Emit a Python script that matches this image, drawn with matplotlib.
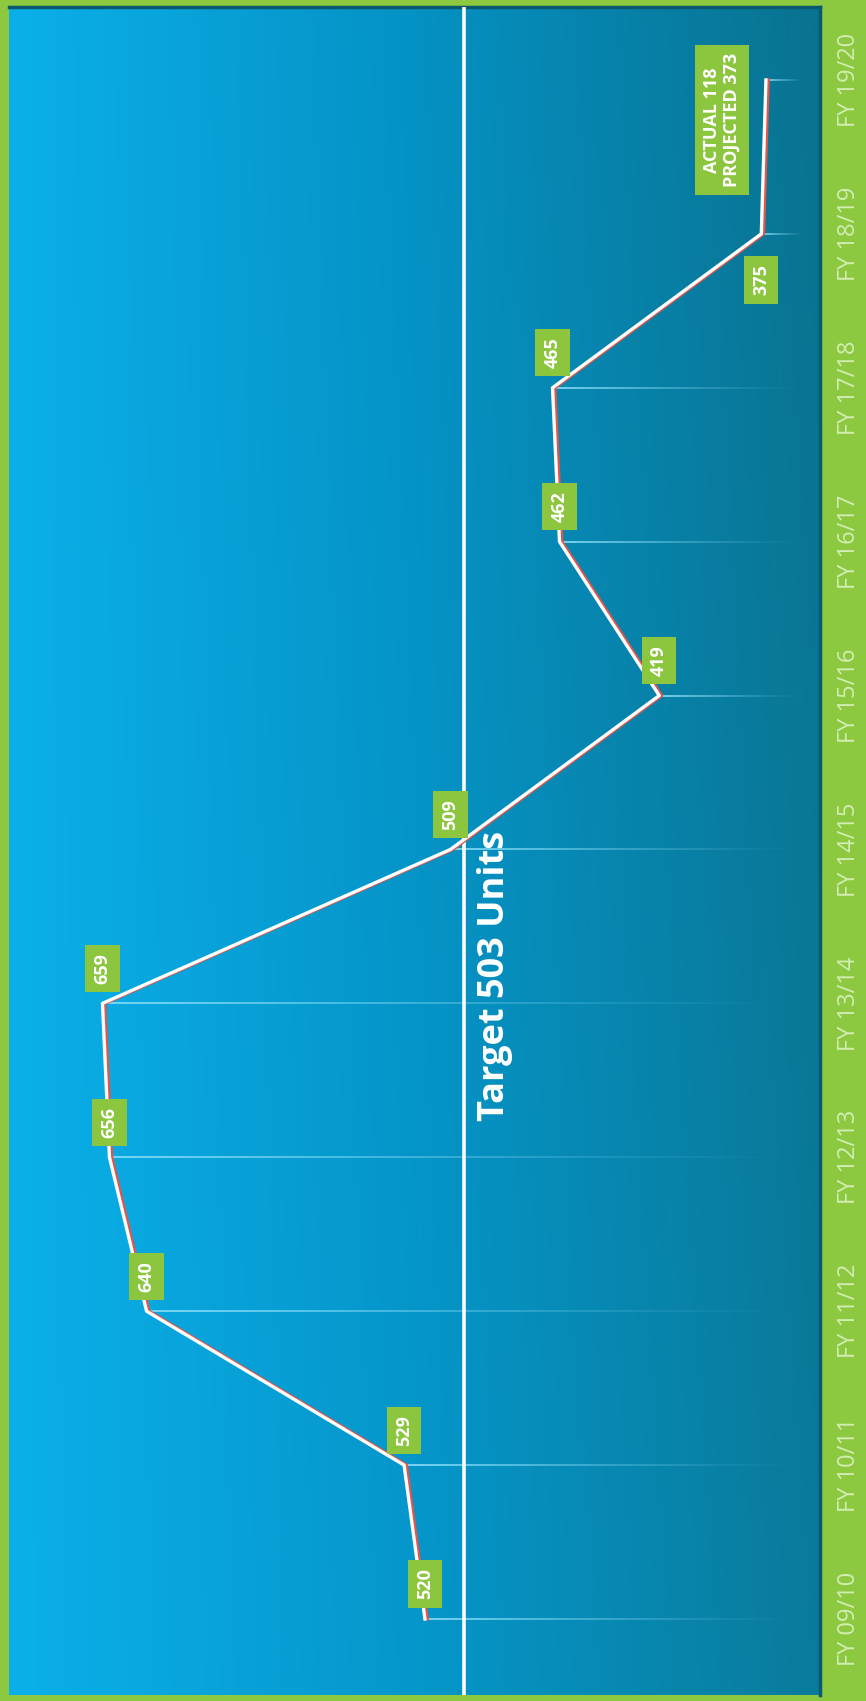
import numpy as np
import matplotlib
matplotlib.use('Agg')
import matplotlib.pyplot as plt
from matplotlib.collections import LineCollection
from matplotlib import patheffects as pe
from matplotlib.colors import to_rgb

# ---- data ----
years = ['FY 09/10', 'FY 10/11', 'FY 11/12', 'FY 12/13', 'FY 13/14', 'FY 14/15',
         'FY 15/16', 'FY 16/17', 'FY 17/18', 'FY 18/19', 'FY 19/20']
units = [520, 529, 640, 656, 659, 509, 419, 462, 465, 375, 373]
actual_1920 = 118
target = 503

W, H = 866, 1701
GREEN = '#8cc840'
BOX = '#8cc63f'

fig = plt.figure(figsize=(W / 100, H / 100), dpi=100, facecolor=GREEN)
ax = fig.add_axes([9 / W, 6 / H, (820 - 9) / W, (1695 - 7) / H])

xl = (699.3, 349.7)
yl = (-0.494, 10.474)
ax.set_xlim(*xl)
ax.set_ylim(*yl)

# background gradient
nx, ny = 400, 200
c0, c1, c2 = np.array(to_rgb('#0bb0ea')), np.array(to_rgb('#0597cb')), np.array(to_rgb('#0a7b9b'))
t = np.linspace(0, 1, nx)
row = np.where(t[:, None] < 0.5,
               c0 + (c1 - c0) * (t[:, None] / 0.5),
               c1 + (c2 - c1) * ((t[:, None] - 0.5) / 0.5))
yf = np.linspace(0, 1, ny)[:, None, None]
img = row[None, :, :] * (1 - 0.07 * yf * t[None, :, None])
ax.imshow(img, extent=(xl[0], xl[1], yl[0], yl[1]), origin='lower',
          aspect='auto', zorder=0, interpolation='bilinear')

idx = np.arange(len(units))

# fading guide lines from each point
end_val = 356
nseg = 60
for i, v in zip(idx, units):
    xs = np.linspace(v, end_val, nseg + 1)
    segs = [[(xs[k], i), (xs[k + 1], i)] for k in range(nseg)]
    alphas = np.linspace(0.9, 0.0, nseg) ** 1.3
    cols = [(0.55, 0.87, 0.97, a) for a in alphas]
    ax.add_collection(LineCollection(segs, colors=cols, linewidths=1.4, zorder=2))

# target line
ax.axvline(target, color='white', lw=2.6, zorder=3)
ax.text(target - 13, 4.18, f'Target {target} Units', rotation=90, ha='center',
        va='center', color='white', fontsize=26, fontweight='bold',
        family='Open Sans', zorder=6)

# main line with red shadow
ax.plot(units, idx, color='white', lw=2.4, zorder=4, solid_joinstyle='round',
        path_effects=[pe.SimpleLineShadow(offset=(1.6, 0), shadow_color='#e0564a', alpha=1.0),
                      pe.Normal()])

label_kw = dict(rotation=90, ha='center', va='center', color='white', fontsize=13,
                fontweight='bold', family='Open Sans',
                bbox=dict(boxstyle='square,pad=0.45', fc=BOX, ec='none'), zorder=6)
for i, v in zip(idx[:-1], units[:-1]):
    dy = -0.30 if i == 9 else 0.227
    ax.text(v, i + dy, str(v), **label_kw)
ax.text(392, 9.74, f'ACTUAL {actual_1920}\nPROJECTED {units[-1]}',
        linespacing=1.15, multialignment='center', **label_kw)

# axes / ticks
ax.set_xticks([])
ax.yaxis.tick_right()
ax.set_yticks(idx)
ax.set_yticklabels(years, rotation=90, va='center', ha='left', fontsize=17,
                   color='#d3eeb4', family='Open Sans')
ax.tick_params(axis='y', length=0, pad=12)
for s in ['left', 'bottom']:
    ax.spines[s].set_visible(False)
for s in ['top', 'right']:
    ax.spines[s].set_color('#0a5a6e')
    ax.spines[s].set_linewidth(2.5)

fig.savefig('out.png', dpi=100, facecolor=fig.get_facecolor())
